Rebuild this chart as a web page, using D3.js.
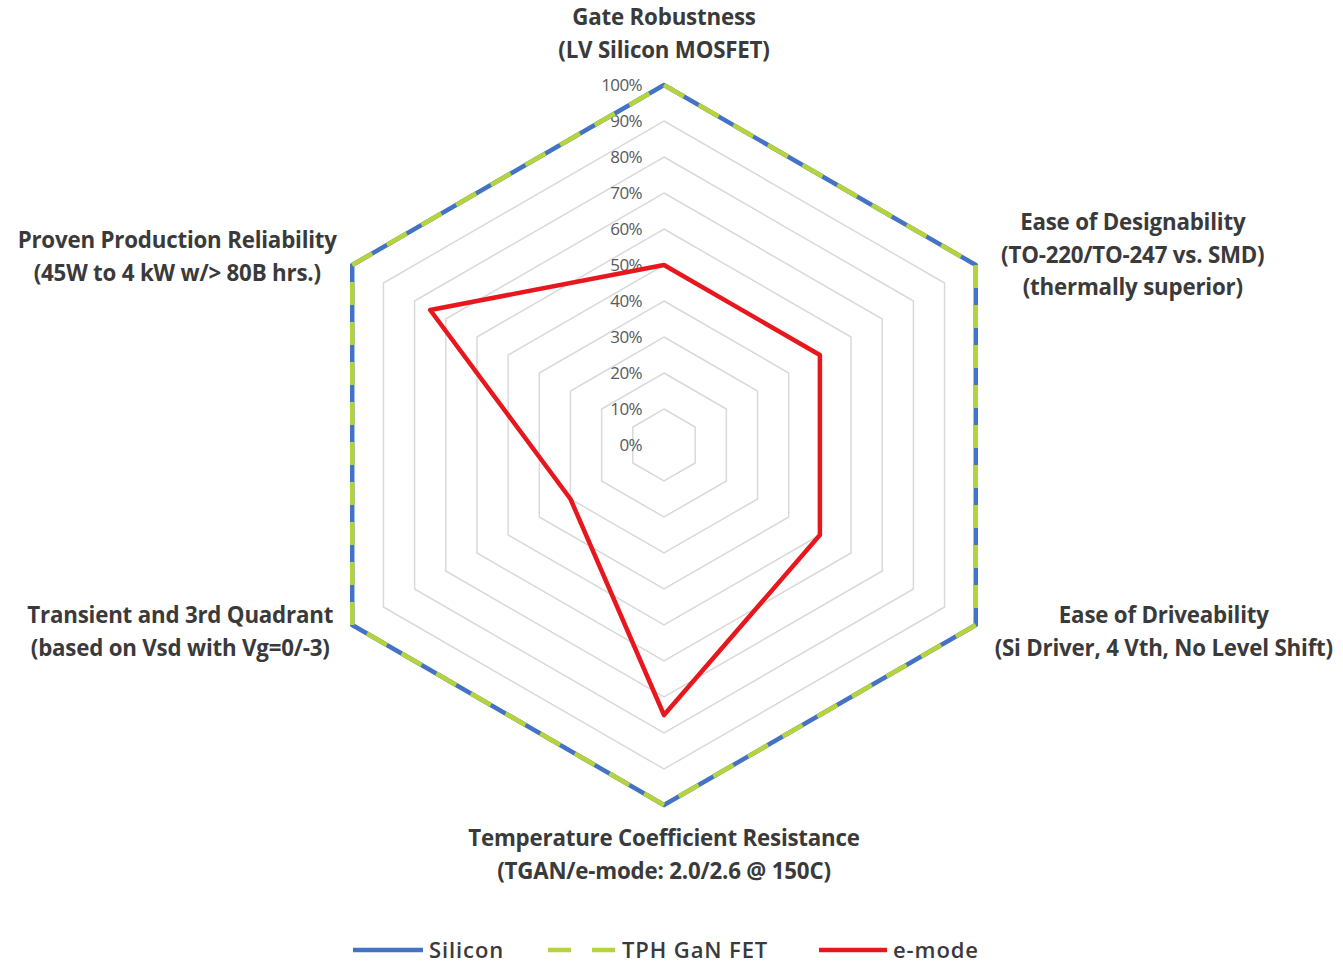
<!DOCTYPE html>
<html>
<head>
<meta charset="utf-8">
<script src="https://cdn.jsdelivr.net/npm/d3@7"></script>
<style>
  body { margin: 0; background: #fff; }
  text { font-family: "Open Sans", "Noto Sans", sans-serif; }
</style>
</head>
<body>
<div id="radar"></div>
<script>
// axis labels, clockwise from the top
var axes = [
  ["Gate Robustness", "(LV Silicon MOSFET)"],
  ["Ease of Designability", "(TO-220/TO-247 vs. SMD)", "(thermally superior)"],
  ["Ease of Driveability", "(Si Driver, 4 Vth, No Level Shift)"],
  ["Temperature Coefficient Resistance", "(TGAN/e-mode: 2.0/2.6 @ 150C)"],
  ["Transient and 3rd Quadrant", "(based on Vsd with Vg=0/-3)"],
  ["Proven Production Reliability", "(45W to 4 kW w/> 80B hrs.)"]
];
var silicon = [1, 1, 1, 1, 1, 1];
var tphGan = [1, 1, 1, 1, 1, 1];
var emode = [0.5, 0.5, 0.5, 0.75, 0.3, 0.75];
var ticks = [0, 0.1, 0.2, 0.3, 0.4, 0.5, 0.6, 0.7, 0.8, 0.9, 1.0];
var seriesNames = ["Silicon", "TPH GaN FET", "e-mode"];

var width = 1343, height = 965;
var cx = 664, cy = 445;

// label offsets from each outer vertex (first baseline)
var labelOffsets = [[0, -60], [157, -35], [188, -2], [0, 41], [-172, -2], [-175, -17]];

var svg = d3.select("#radar")
  .append("svg")
  .attr("width", width)
  .attr("height", height);

var g = svg.append("g")
  .attr("transform", "translate(" + cx + "," + cy + ")");

var r = d3.scaleLinear().domain([0, 1]).range([0, 360]);
var angle = (i) => i * Math.PI * 2 / axes.length;

var radial = d3.lineRadial()
  .angle((d, i) => angle(i))
  .radius((d) => r(d))
  .curve(d3.curveLinearClosed);

// grid rings
g.append("g")
  .selectAll("path")
  .data(ticks.slice(1))
  .enter()
  .append("path")
  .attr("d", (t) => radial(axes.map(() => t)))
  .style("fill", "none")
  .style("stroke", "#d9d9d9")
  .style("stroke-width", 1.5);

// tick labels
g.append("g")
  .selectAll("text")
  .data(ticks)
  .enter()
  .append("text")
  .attr("x", -22)
  .attr("y", (t) => -r(t) + 6)
  .attr("text-anchor", "end")
  .style("font-size", "17px")
  .style("letter-spacing", "-0.6px")
  .style("fill", "#595959")
  .text((t) => d3.format(".0%")(t));

// series
var series = [
  { name: seriesNames[0], values: silicon, color: "#4472c4", dash: null },
  { name: seriesNames[1], values: tphGan, color: "#b5d33d", dash: "23,17" },
  { name: seriesNames[2], values: emode, color: "#e8161d", dash: null }
];

g.append("g")
  .selectAll("path")
  .data(series)
  .enter()
  .append("path")
  .attr("d", (s) => radial(s.values))
  .style("fill", "none")
  .style("stroke", (s) => s.color)
  .style("stroke-width", 4.5)
  .style("stroke-linejoin", "round")
  .style("stroke-dasharray", (s) => s.dash);

// axis labels
var lab = g.append("g")
  .selectAll("text")
  .data(axes)
  .enter()
  .append("text")
  .attr("text-anchor", "middle")
  .style("font-size", "22.3px")
  .style("font-weight", "700")
  .style("letter-spacing", "-0.2px")
  .style("fill", "#3a3a3a")
  .attr("transform", function (d, i) {
    var a = angle(i);
    var x = Math.sin(a) * r(1) + labelOffsets[i][0];
    var y = -Math.cos(a) * r(1) + labelOffsets[i][1];
    return "translate(" + x + "," + y + ")";
  });

lab.selectAll("tspan")
  .data((d) => d)
  .enter()
  .append("tspan")
  .attr("x", 0)
  .attr("dy", (d, i) => i === 0 ? 0 : 32.5)
  .text((d) => d);

// legend
var legendX = [353, 548, 819];
var legend = svg.append("g")
  .selectAll("g")
  .data(series)
  .enter()
  .append("g")
  .attr("transform", (d, i) => "translate(" + legendX[i] + ",950)");

legend.append("line")
  .attr("x1", 0)
  .attr("x2", (d, i) => i === 0 ? 70 : 68)
  .style("stroke", (d) => d.color)
  .style("stroke-width", 4.5)
  .style("stroke-dasharray", (d) => d.dash ? "23,21" : null);

legend.append("text")
  .attr("x", (d, i) => i === 0 ? 76 : 74)
  .attr("y", 7.5)
  .style("font-size", "22px")
  .style("font-weight", "600")
  .style("letter-spacing", "0.9px")
  .style("fill", "#3a3a3a")
  .text((d) => d.name);
</script>
</body>
</html>
